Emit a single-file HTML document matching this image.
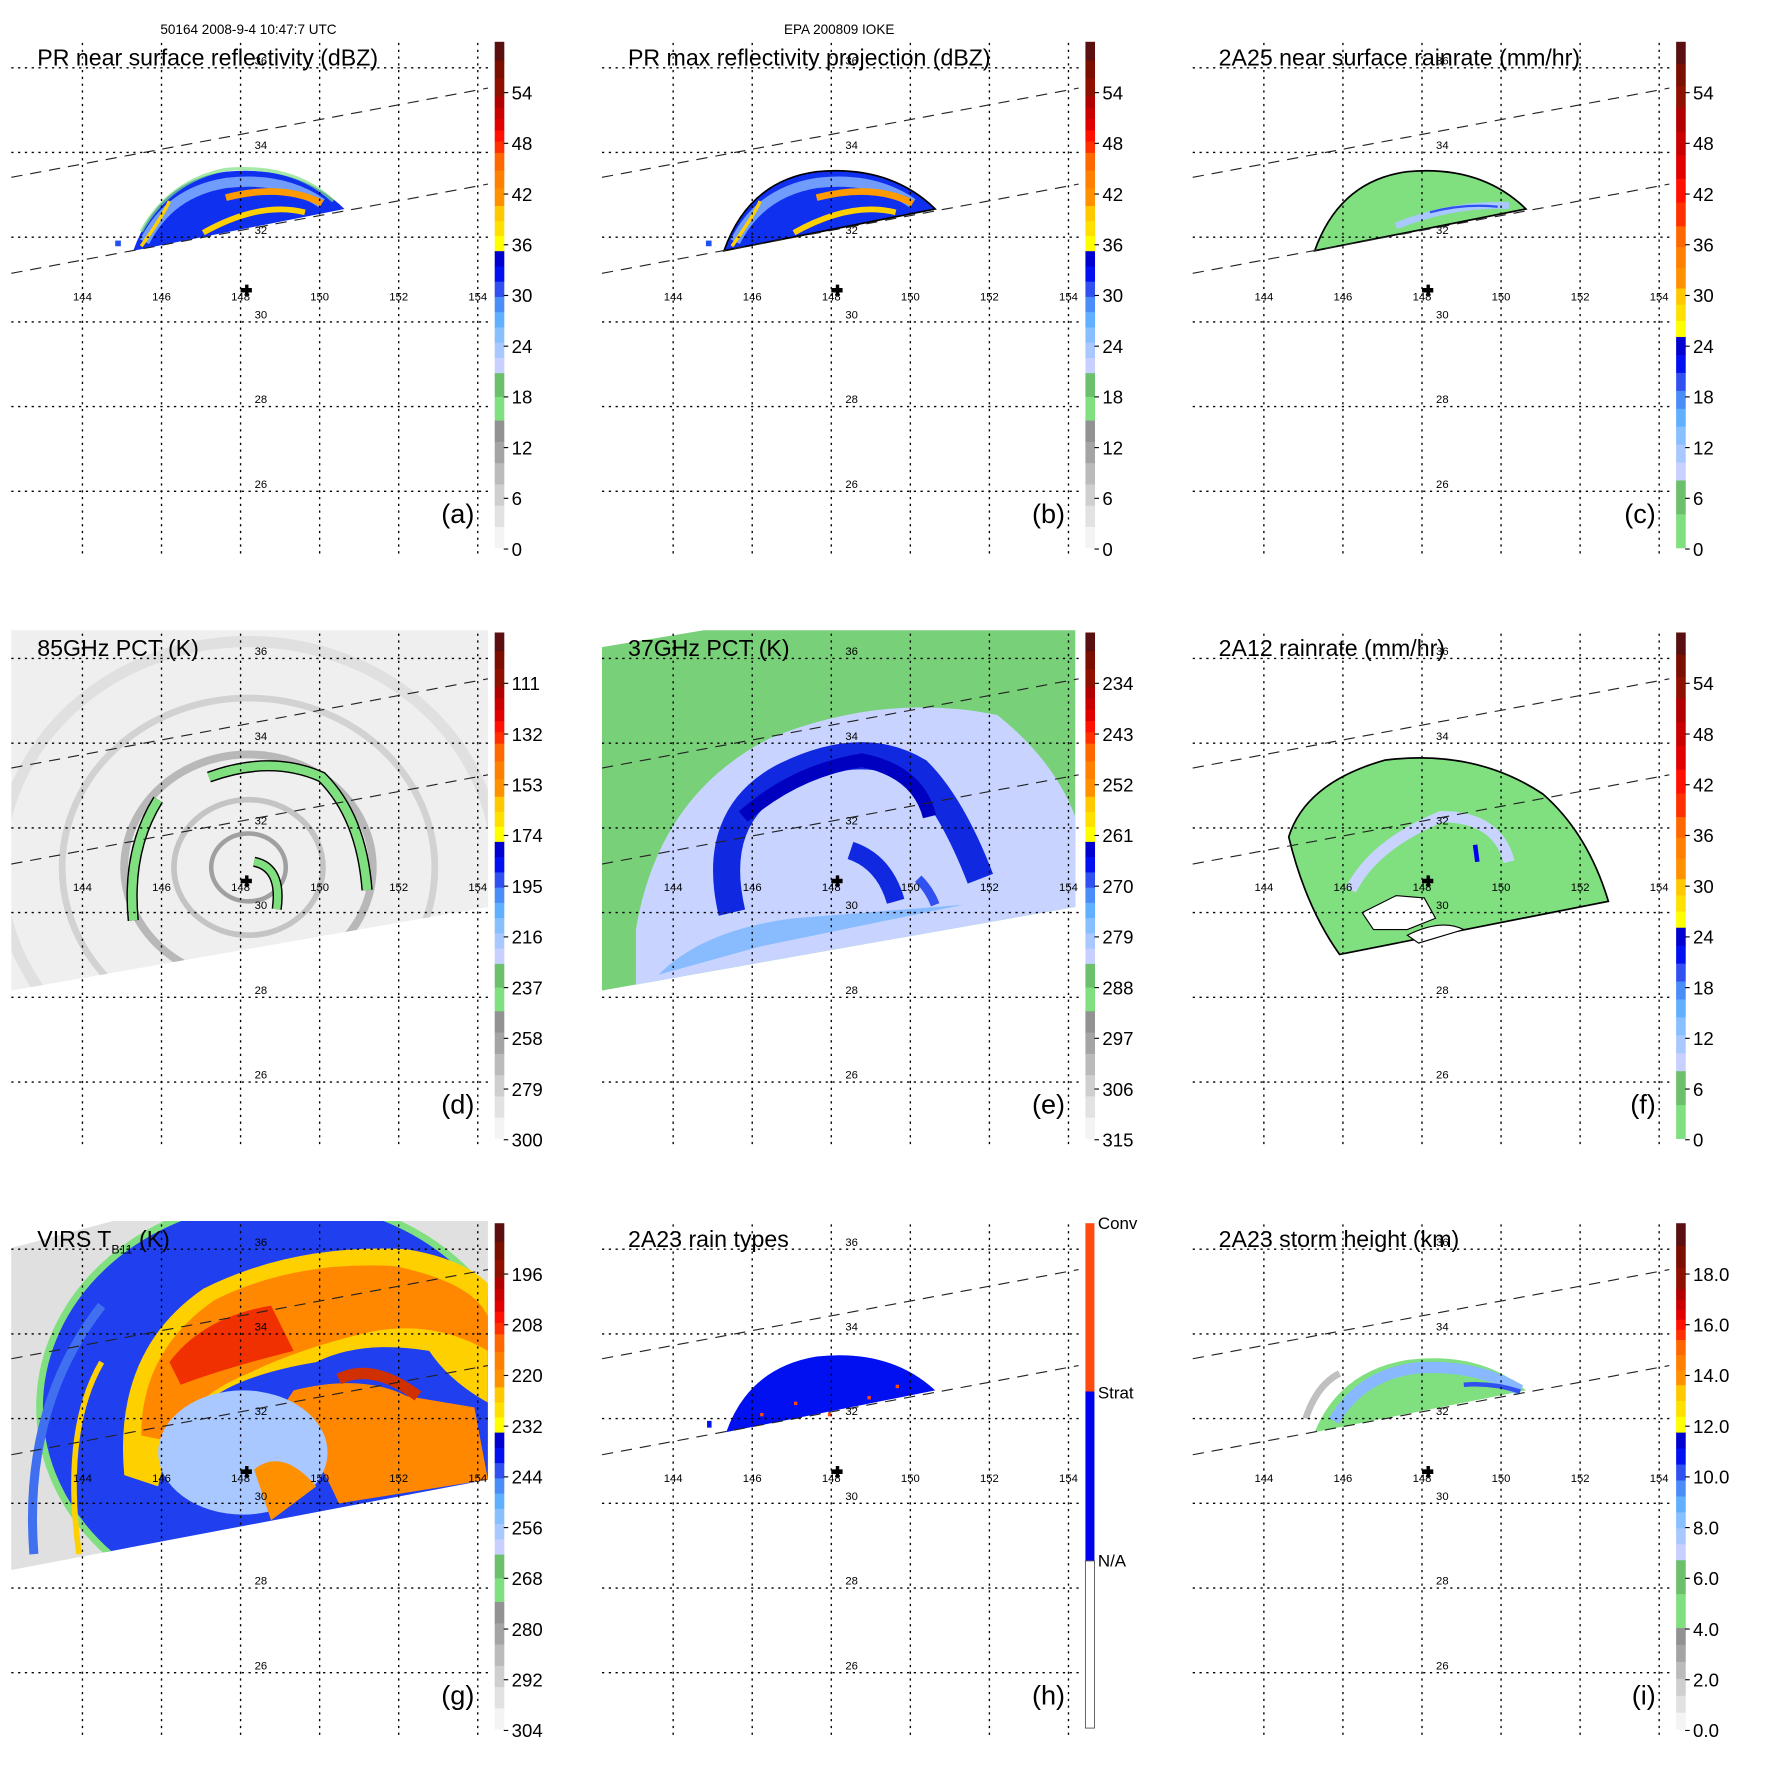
<!DOCTYPE html>
<html><head><meta charset="utf-8">
<style>
html,body{margin:0;padding:0;background:#fff;}
svg{display:block;font-family:"Liberation Sans",sans-serif;}
</style></head>
<body>
<svg id="fig" xmlns="http://www.w3.org/2000/svg" width="1771" height="1771" viewBox="0 0 1568 1568">
<rect width="1568" height="1568" fill="#fff"/>
<text x="220" y="30" font-size="12" text-anchor="middle">50164 2008-9-4 10:47:7 UTC</text>
<text x="743" y="30" font-size="12" text-anchor="middle">EPA 200809 IOKE</text>
</svg>
<script>
const lonTicks=[144,146,148,150,152,154];
const latTicks=[36,34,32,30,28,26];
const titles=["PR near surface reflectivity (dBZ)","PR max reflectivity projection (dBZ)","2A25 near surface rainrate (mm/hr)","85GHz PCT (K)","37GHz PCT (K)","2A12 rainrate (mm/hr)","VIRS T","2A23 rain types","2A23 storm height (km)"];
const panelLetters=["(a)","(b)","(c)","(d)","(e)","(f)","(g)","(h)","(i)"];
const cbA=["54","48","42","36","30","24","18","12","6","0"];
const cbD=["111","132","153","174","195","216","237","258","279","300"];
const cbE=["234","243","252","261","270","279","288","297","306","315"];
const cbG=["196","208","220","232","244","256","268","280","292","304"];
const cbI=["18.0","16.0","14.0","12.0","10.0","8.0","6.0","4.0","2.0","0.0"];
const cbTicks=[cbA,cbA,cbA,cbD,cbE,cbA,cbG,null,cbI];
const NS="http://www.w3.org/2000/svg";
const svg=document.getElementById('fig');
function mk(tag,attrs,parent){const e=document.createElementNS(NS,tag);for(const k in attrs)e.setAttribute(k,attrs[k]);(parent||svg).appendChild(e);return e;}
const xLon=lon=>73+(lon-144)*35;
const yLat=lat=>60+(36-lat)*37.5;
const G=["#f4f4f4","#e2e2e2","#cfcfcf","#bbbbbb","#a4a4a4","#929292"],GR=["#80e080","#6cc06c"],
BL=["#c8d0ff","#a8c8ff","#88c0ff","#60b0ff","#4a8cf8","#3050f0","#0010f0","#0000d0"],
YE=["#ffff00","#ffe000","#ffc800"],OR=["#ff9000","#ff8000","#ff6800"],RD=["#ff3000","#ff1000","#e00000","#c80000","#b00000"],DK=["#901000","#7a0e00","#5a1010"];
const schA=[[485,372,G],[372,330,GR],[330,222,BL],[222,182,YE],[182,135,OR],[135,85,RD],[85,37,DK]];
const schC=[[485,425,GR],[425,298,BL],[298,255,YE],[255,200,OR],[200,95,RD],[95,37,DK]];
const schI=[[485,395,G],[395,335,GR],[335,222,BL],[222,180,YE],[180,140,OR],[140,95,RD],[95,37,DK]];
const schemes=[schA,schA,schC,schA,schA,schC,schA,null,schI];
for(let p=0;p<9;p++){
  const ox=(p%3)*523, oy=Math.floor(p/3)*523;
  const g=mk('g',{transform:`translate(${ox},${oy})`});
  
  
  const img=mk('g',{},g);
  
  
  drawImagery(p,img);
  for(const lat of latTicks){
    const l=mk('line',{x1:10,x2:432,y1:yLat(lat),y2:yLat(lat),stroke:'#000','stroke-width':1.2,'stroke-dasharray':'2,4'},g);
     
    const t=mk('text',{x:231,y:yLat(lat)-3,'font-size':10,'text-anchor':'middle'},g);t.textContent=lat;
     
  }
  for(const lon of lonTicks){
    const l=mk('line',{x1:xLon(lon),x2:xLon(lon),y1:38,y2:490,stroke:'#000','stroke-width':1.2,'stroke-dasharray':'2,4'},g);
     
    const t=mk('text',{x:xLon(lon),y:266,'font-size':10,'text-anchor':'middle'},g);t.textContent=lon;
     
  }
  for(const [y1,y2] of [[157,78],[242,163]]){
    const l=mk('line',{x1:10,y1:y1,x2:432,y2:y2,stroke:'#222','stroke-width':1,'stroke-dasharray':'10,7'},g);
     
  }
  const c=mk('path',{d:'M218,254h4v-3h3v3h3v4h-3v3h-3v-3h-4z',fill:'#000',transform:'translate(-5,1)'},g);
   
  const t=mk('text',{x:33,y:58,'font-size':20.5},g);
   
  if(p===6){t.textContent='VIRS T';const s=mk('tspan',{'font-size':11,dy:6},t);s.textContent='B11';const s2=mk('tspan',{dy:-6},t);s2.textContent=' (K)';}
  else t.textContent=titles[p];
  const lt=mk('text',{x:420,y:463,'font-size':24,'text-anchor':'end'},g);lt.textContent=panelLetters[p];
   
  const cb=mk('g',{},g);
   
  if(p===7){
    mk('rect',{x:438,y:37,width:8,height:149,fill:'#ff4a10'},cb);
    mk('rect',{x:438,y:186,width:8,height:150,fill:'#0000f0'},cb);
    mk('rect',{x:438,y:336,width:8,height:148,fill:'#fff',stroke:'#555','stroke-width':0.8},cb);
    [['Conv',42],['Strat',192],['N/A',341]].forEach(([s,y])=>{const tt=mk('text',{x:449,y:y,'font-size':15},cb);tt.textContent=s;
       });
  } else {
    for(const [b,tp,cols] of schemes[p]){
      const h=(b-tp)/cols.length;
      cols.forEach((col,i)=>mk('rect',{x:438,y:b-(i+1)*h,width:8.5,height:h+0.4,fill:col},cb));
    }
    cbTicks[p].forEach((s,i)=>{const y=82+i*44.9;
      mk('line',{x1:446,x2:450,y1:y,y2:y,stroke:'#000'},cb);
      const tt=mk('text',{x:453,y:y+6,'font-size':16.5},cb);tt.textContent=s;
       });
  }
}
function dome(g,fill,stroke){return mk('path',{d:'M118,222 Q140,160 200,152 Q265,146 305,185 Z',fill:fill,stroke:stroke||'none','stroke-width':1.5},g);}
function drawImagery(p,g){
  if(p===0||p===1){
    dome(g,'#1030f0',p===1?'#000':null);
    mk('path',{d:'M128,214 Q150,170 200,162 Q250,156 285,180',fill:'none',stroke:'#88b8ff','stroke-width':9,opacity:.8},g);
    mk('path',{d:'M180,206 Q230,178 270,188',fill:'none',stroke:'#ffd000','stroke-width':5},g);
    mk('path',{d:'M200,175 Q250,162 285,180',fill:'none',stroke:'#ff9a00','stroke-width':6},g);
    mk('path',{d:'M125,218 Q145,190 150,178',fill:'none',stroke:'#ffd000','stroke-width':3},g);
    if(p===0) mk('path',{d:'M125,205 Q150,160 200,150 Q260,145 295,178',fill:'none',stroke:'#80e080','stroke-width':3,opacity:.7},g);
    mk('rect',{x:102,y:213,width:5,height:5,fill:'#2050f0'},g);
  } else if(p===2){
    dome(g,'#80e080','#000');
    mk('path',{d:'M190,200 Q240,180 290,182',fill:'none',stroke:'#a8c8ff','stroke-width':6},g);
    mk('path',{d:'M220,188 Q250,180 280,183',fill:'none',stroke:'#3050f0','stroke-width':2},g);
  } else if(p===8){
    mk('path',{d:'M118,222 Q140,168 200,158 Q265,150 305,185 Z',fill:'#80e080'},g);
    mk('path',{d:'M135,212 Q160,170 210,165 Q262,162 300,185',fill:'none',stroke:'#88b8ff','stroke-width':10},g);
    mk('path',{d:'M250,180 Q275,178 300,186',fill:'none',stroke:'#3050f0','stroke-width':4},g);
    mk('path',{d:'M110,210 Q120,180 140,170',fill:'none',stroke:'#c0c0c0','stroke-width':6},g);
  } else if(p===7){
    mk('path',{d:'M120,222 Q140,165 200,155 Q265,148 305,185 Z',fill:'#0010f0'},g);
    [[180,195],[210,205],[245,190],[150,205],[270,180]].forEach(([x,y])=>mk('rect',{x:x,y:y,width:3,height:3,fill:'#ff4a10'},g));
    mk('rect',{x:103,y:212,width:4,height:6,fill:'#0010f0'},g);
  } else if(p===3){
    const sw='M10,35 L432,35 L432,280 L10,354 Z';
    mk('path',{d:sw,fill:'#efefef'},g);
    const cl=mk('clipPath',{id:'cd'},g);mk('path',{d:sw},cl);
    const cg=mk('g',{'clip-path':'url(#cd)'},g);
    [[200,'#e0e0e0',10],[150,'#d2d2d2',6],[100,'#b8b8b8',7],[60,'#c4c4c4',5],[30,'#a0a0a0',4]].forEach(([r,c,w])=>mk('ellipse',{cx:220,cy:245,rx:r*1.1,ry:r,fill:'none',stroke:c,'stroke-width':w},cg));
    const arcs='M118,292 Q112,230 140,185 M185,165 Q240,145 285,165 Q320,200 325,265';
    mk('path',{d:arcs,fill:'none',stroke:'#000','stroke-width':10},g);
    mk('path',{d:arcs,fill:'none',stroke:'#80e080','stroke-width':7.5},g);
    mk('path',{d:'M225,240 Q250,245 245,282',fill:'none',stroke:'#000','stroke-width':9},g);
    mk('path',{d:'M225,240 Q250,245 245,282',fill:'none',stroke:'#80e080','stroke-width':6.5},g);
  } else if(p===4){
    const sw='M10,50 L100,35 L429,35 L429,280 L10,354 Z';
    mk('path',{d:sw,fill:'#78d078'},g);
    const cl=mk('clipPath',{id:'ce'},g);mk('path',{d:sw},cl);
    const cg=mk('g',{'clip-path':'url(#ce)'},g);
    mk('path',{d:'M40,354 L40,300 Q60,180 160,130 Q260,90 360,110 Q410,150 429,200 L429,280 Z',fill:'#c8d4ff'},cg);
    mk('path',{d:'M60,340 Q100,300 180,290 L330,278 L150,315 Z',fill:'#88bcff'},cg);
    mk('path',{d:'M125,285 Q105,200 170,165 Q240,130 290,160 Q320,190 345,255',fill:'none',stroke:'#1028e0','stroke-width':24},cg);
    mk('path',{d:'M135,200 Q180,160 240,150 Q290,160 300,200',fill:'none',stroke:'#0000c0','stroke-width':12},cg);
    mk('path',{d:'M230,230 Q260,240 270,275',fill:'none',stroke:'#1028e0','stroke-width':16},cg);
    mk('path',{d:'M290,255 Q300,265 305,278',fill:'none',stroke:'#3050f0','stroke-width':8},cg);
  } else if(p===5){
    mk('path',{d:'M95,218 Q110,170 180,150 Q260,140 320,180 Q360,215 378,275 L140,322 Q110,280 95,218 Z',fill:'#80e080',stroke:'#000','stroke-width':1.5},g);
    mk('path',{d:'M150,265 Q170,225 230,200 Q280,200 290,240',fill:'none',stroke:'#c8d4ff','stroke-width':10},g);
    mk('path',{d:'M160,285 L190,270 L215,272 L225,290 L200,300 L170,300 Z',fill:'#fff',stroke:'#000','stroke-width':1},g);
    mk('path',{d:'M200,305 Q230,290 250,300 L210,312 Z',fill:'#fff',stroke:'#000','stroke-width':1},g);
    mk('path',{d:'M260,225 L262,240',stroke:'#0000f0','stroke-width':4},g);
  } else if(p===6){
    const sw='M10,59 L100,35 L432,35 L432,264 L10,344 Z';
    mk('path',{d:sw,fill:'#e0e0e0'},g);
    const cl=mk('clipPath',{id:'cg'},g);mk('path',{d:sw},cl);
    const cg=mk('g',{'clip-path':'url(#cg)'},g);
    mk('ellipse',{cx:250,cy:200,rx:215,ry:185,fill:'#2040f0'},cg);
    mk('ellipse',{cx:250,cy:200,rx:215,ry:185,fill:'none',stroke:'#80e080','stroke-width':6},cg);
    mk('path',{d:'M110,260 Q100,150 180,95 Q260,55 360,60 Q420,70 440,100 L440,200 Q400,180 380,150 Q320,140 280,160 Q220,170 190,190 Q150,220 140,270 Z',fill:'#ffd000'},cg);
    mk('path',{d:'M125,225 Q125,150 190,105 Q260,70 350,75 Q420,90 432,120 L432,150 Q380,120 320,135 Q260,150 220,170 Q170,190 150,230 Z',fill:'#ff8800'},cg);
    mk('path',{d:'M150,160 Q180,120 240,110 L260,150 Q200,165 160,180 Z',fill:'#f03000'},cg);
    mk('path',{d:'M260,185 Q320,170 360,190 L420,200 L432,264 L300,285 Q280,240 250,200 Z',fill:'#ff8800'},cg);
    mk('path',{d:'M300,175 Q330,160 370,190',fill:'none',stroke:'#d03000','stroke-width':10},cg);
    mk('ellipse',{cx:215,cy:240,rx:75,ry:55,fill:'#a8c8ff'},cg);
    mk('path',{d:'M225,255 Q250,235 280,270 L240,300 Z',fill:'#ff9000'},cg);
    mk('path',{d:'M30,330 Q20,200 90,110',fill:'none',stroke:'#4070f0','stroke-width':8},cg);
    mk('path',{d:'M70,330 Q55,220 90,160',fill:'none',stroke:'#ffd000','stroke-width':5},cg);
  }
}
</script>
</body></html>
